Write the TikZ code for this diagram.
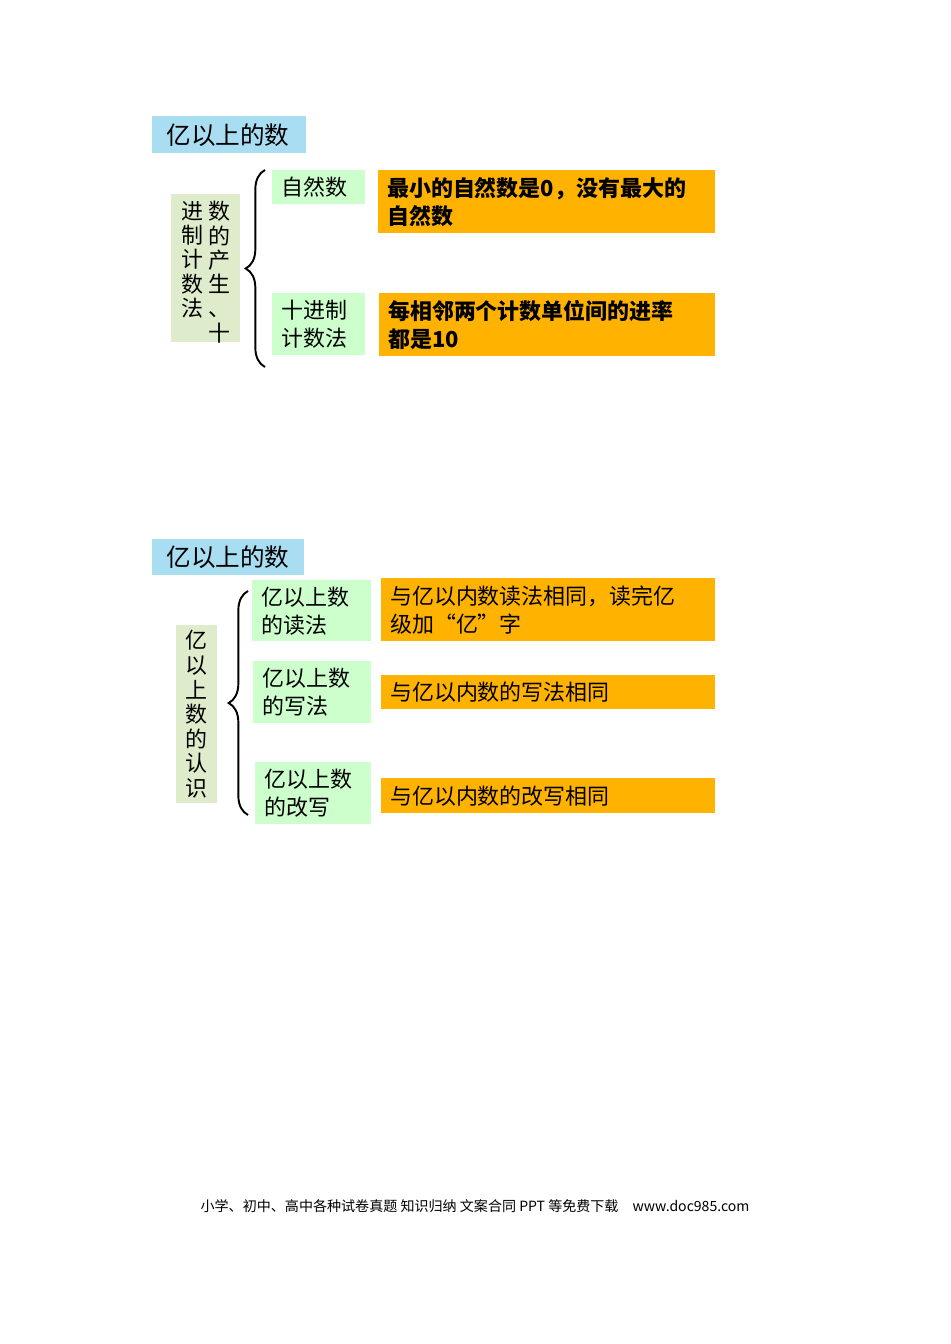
\documentclass[tikz,border=0pt]{standalone}
\usepackage{fontspec}
\setmainfont{Noto Sans CJK SC}
\usetikzlibrary{decorations.pathreplacing}
\tikzset{
  fillbox/.style={anchor=north west,inner sep=0pt},
  titlebox/.style={fillbox,fill=cyan!10!blue!10!teal!20!cyan!35},
  sidebox/.style={fillbox,fill=green!25!olive!20!white},
  itembox/.style={fillbox,fill=green!20},
  notebox/.style={fillbox,fill=orange!60!yellow},
  boxtext/.style={anchor=west,align=left,inner sep=0pt,font=\fontsize{12.5}{16}\selectfont},
  bracepath/.style={decorate,decoration={brace,mirror,amplitude=11pt},line width=1.1pt}
}
\begin{document}
\begin{tikzpicture}
    [x=0.02cm,y=-0.02cm]
    \useasboundingbox (0,0) rectangle (950,1344);

    % first part:
    \node (title1) at (152,116) [titlebox,minimum width=3.08cm,minimum height=0.74cm] {};
    \node at ([xshift=8pt]title1.west) [boxtext,font=\fontsize{14}{16}\selectfont] {亿以上的数};

    \node (side1) at (171,194) [sidebox,minimum width=1.38cm,minimum height=2.96cm] {};
    \node at (219,201) [anchor=north,align=center,inner sep=0pt,font=\fontsize{12.5}{13.8}\selectfont] {数\\的\\产\\生\\、\\十};
    \node at (192,201) [anchor=north,align=center,inner sep=0pt,font=\fontsize{12.5}{13.8}\selectfont] {进\\制\\计\\数\\法};

    \coordinate (b1top) at (265,170);
    \coordinate (b1bot) at (265,367);
    \draw [bracepath] (b1top) -- (b1bot);

    \node (zrs) at (272,170) [itembox,minimum width=1.86cm,minimum height=0.68cm] {};
    \node at ([xshift=5pt]zrs.west) [boxtext] {自然数};
    \node (note1) at (378,170) [notebox,minimum width=6.74cm,minimum height=1.26cm] {};
    \node at ([xshift=5pt]note1.west) [boxtext] {\textbf{最小的自然数是0，没有最大的}\\\textbf{自然数}};

    \node (sjz) at (272,293) [itembox,minimum width=1.86cm,minimum height=1.24cm] {};
    \node at ([xshift=5pt]sjz.west) [boxtext] {十进制\\计数法};
    \node (note2) at (379,293) [notebox,minimum width=6.72cm,minimum height=1.26cm] {};
    \node at ([xshift=5pt]note2.west) [boxtext] {\textbf{每相邻两个计数单位间的进率}\\\textbf{都是10}};

    % second part:
    \node (title2) at (152,539) [titlebox,minimum width=3.04cm,minimum height=0.72cm] {};
    \node at ([xshift=8pt]title2.west) [boxtext,font=\fontsize{14}{16}\selectfont] {亿以上的数};

    \node (side2) at (176,625) [sidebox,minimum width=0.82cm,minimum height=3.56cm] {};
    \node at (side2.center) [align=center,inner sep=0pt,font=\fontsize{12.5}{14}\selectfont] {亿\\以\\上\\数\\的\\认\\识};

    \coordinate (b2top) at (248,591);
    \coordinate (b2bot) at (248,815);
    \draw [bracepath] (b2top) -- (b2bot);

    \node (read) at (252,580) [itembox,minimum width=2.38cm,minimum height=1.22cm] {};
    \node at ([xshift=5pt]read.west) [boxtext] {亿以上数\\的读法};
    \node (write) at (253,661) [itembox,minimum width=2.36cm,minimum height=1.24cm] {};
    \node at ([xshift=5pt]write.west) [boxtext] {亿以上数\\的写法};
    \node (rewrite) at (255,762) [itembox,minimum width=2.32cm,minimum height=1.24cm] {};
    \node at ([xshift=5pt]rewrite.west) [boxtext] {亿以上数\\的改写};

    \node (note3) at (381,578) [notebox,minimum width=6.68cm,minimum height=1.26cm] {};
    \node at ([xshift=5pt]note3.west) [boxtext] {与亿以内数读法相同，读完亿\\级加“亿”字};
    \node (note4) at (381,675) [notebox,minimum width=6.68cm,minimum height=0.68cm] {};
    \node at ([xshift=5pt]note4.west) [boxtext] {与亿以内数的写法相同};
    \node (note5) at (381,778) [notebox,minimum width=6.68cm,minimum height=0.70cm] {};
    \node at ([xshift=5pt]note5.west) [boxtext] {与亿以内数的改写相同};

    % footer:
    \node (footer) at (475,1206) [inner sep=0pt,font=\fontsize{8}{10}\selectfont] {小学、初中、高中各种试卷真题 知识归纳 文案合同 PPT 等免费下载\quad www.doc985.com};

\end{tikzpicture}
\end{document}
